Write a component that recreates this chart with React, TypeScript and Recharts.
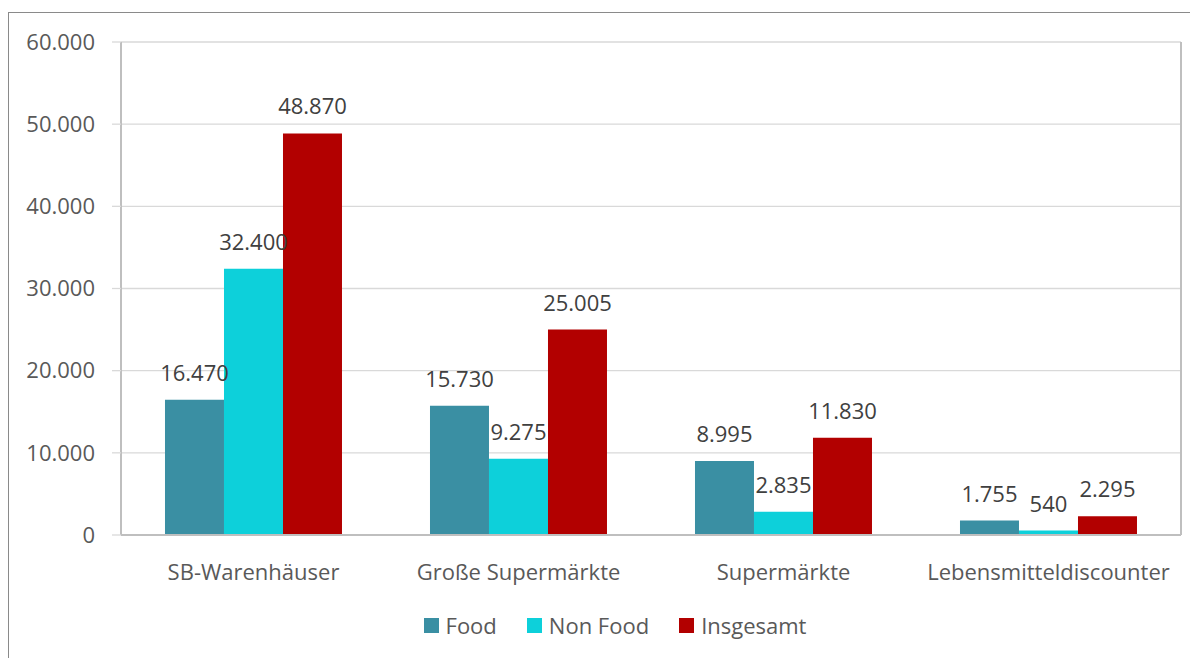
import React from 'react';
import { BarChart, Bar, XAxis, YAxis, CartesianGrid, Legend, LabelList } from 'recharts';

const categories = ['SB-Warenhäuser', 'Große Supermärkte', 'Supermärkte', 'Lebensmitteldiscounter'];
const food = [16470, 15730, 8995, 1755];
const nonFood = [32400, 9275, 2835, 540];
const insgesamt = [48870, 25005, 11830, 2295];
const yTicks = [0, 10000, 20000, 30000, 40000, 50000, 60000];

const series = [
  { key: 'food', name: 'Food', color: '#3a8fa3' },
  { key: 'nonFood', name: 'Non Food', color: '#0dd0da' },
  { key: 'insgesamt', name: 'Insgesamt', color: '#b20000' },
];

const data = categories.map((name, i) => ({
  name,
  food: food[i],
  nonFood: nonFood[i],
  insgesamt: insgesamt[i],
}));

// German number format: 48870 -> 48.870
const fmt = (v: number) => String(v).replace(/\B(?=(\d{3})+(?!\d))/g, '.');

const FONT = '"Open Sans", "Noto Sans", sans-serif';
const FS = 22;

const LegendBox = () => (
  <div style={{ display: 'flex', justifyContent: 'center', alignItems: 'center', height: 40, gap: 30, paddingLeft: 24 }}>
    {series.map((s) => (
      <div key={s.key} style={{ display: 'flex', alignItems: 'center' }}>
        <span style={{ width: 15, height: 15, background: s.color, display: 'inline-block', marginRight: 7 }} />
        <span style={{ fontSize: FS, color: '#595959', fontFamily: FONT }}>{s.name}</span>
      </div>
    ))}
  </div>
);

const App: React.FC = () => {
  return (
    <div style={{ position: 'relative', width: 1190, height: 650, overflow: 'hidden', fontFamily: FONT }}>
      {/* outer chart frame, runs off the right and bottom edge */}
      <div style={{ position: 'absolute', left: 0, top: 4, width: 1300, height: 800, border: '1px solid #8a8a8a' }} />
      <div style={{ position: 'absolute', left: 0, top: 0 }}>
        <BarChart
          width={1190}
          height={650}
          data={data}
          margin={{ top: 34, right: 17, left: 0, bottom: 0 }}
          barCategoryGap="16.6%"
          barGap={0}
        >
          <CartesianGrid vertical={false} stroke="#d9d9d9" strokeWidth={1.3} />
          {/* right edge of the plot area */}
          <CartesianGrid
            horizontal={false}
            vertical
            stroke="#bfbfbf"
            strokeWidth={2}
            verticalCoordinatesGenerator={({ offset }: any) => [offset.left + offset.width]}
          />
          <XAxis
            dataKey="name"
            height={63}
            tickLine={false}
            tickSize={0}
            tickMargin={29}
            axisLine={{ stroke: '#bfbfbf', strokeWidth: 2 }}
            tick={{ fill: '#595959', fontSize: FS, fontFamily: FONT }}
          />
          <YAxis
            width={113}
            domain={[0, 60000]}
            ticks={yTicks}
            tickFormatter={fmt}
            tickSize={9}
            tickMargin={17}
            tickLine={{ stroke: '#d9d9d9', strokeWidth: 1.3 }}
            axisLine={{ stroke: '#bfbfbf', strokeWidth: 2 }}
            tick={{ fill: '#595959', fontSize: FS, fontFamily: FONT }}
          />
          <Legend
            verticalAlign="bottom"
            height={60}
            wrapperStyle={{ top: 597, left: 0, width: 1190 }}
            content={() => <LegendBox />}
          />
          {series.map((s) => (
            <Bar key={s.key} dataKey={s.key} name={s.name} fill={s.color} isAnimationActive={false}>
              <LabelList
                dataKey={s.key}
                position="top"
                offset={19}
                formatter={(v: any) => fmt(Number(v))}
                style={{ fill: '#404040', fontSize: FS, fontFamily: FONT }}
              />
            </Bar>
          ))}
        </BarChart>
      </div>
    </div>
  );
};

export default App;
